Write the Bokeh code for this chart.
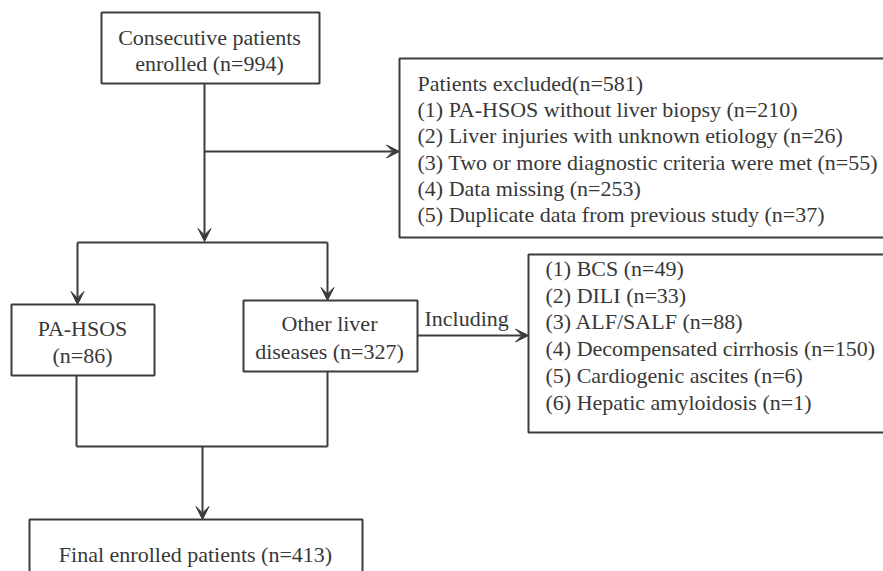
from bokeh.plotting import figure
from bokeh.models import Range1d, Arrow, VeeHead, ColumnDataSource
from bokeh.core.properties import value
from bokeh.embed import file_html
from bokeh.resources import INLINE

# ---- data (flowchart counts) ----
total_n = 994
excluded_n = 581
excluded_reasons = ["PA-HSOS without liver biopsy", "Liver injuries with unknown etiology",
                    "Two or more diagnostic criteria were met", "Data missing",
                    "Duplicate data from previous study"]
excluded_counts = [210, 26, 55, 253, 37]
group_names = ["PA-HSOS", "Other liver diseases"]
group_counts = [86, 327]
other_dx = ["BCS", "DILI", "ALF/SALF", "Decompensated cirrhosis", "Cardiogenic ascites",
            "Hepatic amyloidosis"]
other_counts = [49, 33, 88, 150, 6, 1]
final_n = 413

# ---- layout (page pixel coordinates) ----
FONT = value("Liberation Serif")
FS = "22px"
LC = "#3c3c3c"
TC = "#383838"
LW = 2

p = figure(width=883, height=571, output_backend="svg", toolbar_location=None,
           x_range=Range1d(0, 883), y_range=Range1d(571, 0), min_border=0)
p.axis.visible = False
p.grid.visible = False
p.outline_line_color = None
p.background_fill_color = "white"
p.border_fill_color = "white"

boxes = dict(
    left=[101, 399, 11, 243, 528, 29],
    right=[319, 900, 154, 417, 900, 362],
    top=[12, 58, 304, 300, 254, 519],
    bottom=[83, 237, 375, 371, 432, 600],
)
p.quad(source=ColumnDataSource(boxes), left="left", right="right", top="top", bottom="bottom",
       fill_color="white", line_color=LC, line_width=LW)

# plain connector lines
segs = dict(x0=[77, 76, 327, 76], y0=[242, 375, 371, 446],
            x1=[327, 76, 327, 327], y1=[242, 446, 446, 446])
p.segment(source=ColumnDataSource(segs), x0="x0", y0="y0", x1="x1", y1="y1",
          line_color=LC, line_width=LW)

arrows = [((204, 83), (204, 241)), ((204, 151), (399, 151)),
          ((77, 242), (77, 304)), ((327, 242), (327, 300)),
          ((417, 335), (528, 335)), ((202, 446), (202, 519))]
for (xs, ys), (xe, ye) in arrows:
    p.add_layout(Arrow(end=VeeHead(size=13, fill_color=LC, line_color=LC, line_width=1),
                       x_start=xs, y_start=ys, x_end=xe, y_end=ye,
                       line_color=LC, line_width=LW))

def txt(x, y, s, align="left"):
    p.text(x=[x], y=[y], text=[s], text_font=FONT, text_font_size=FS, text_color=TC,
           text_align=align, text_baseline="middle")

# box 1
txt(209, 37, "Consecutive patients", "center")
txt(209, 63, f"enrolled (n={total_n})", "center")

# excluded box
txt(417, 83, f"Patients excluded(n={excluded_n})")
for i, (r, c) in enumerate(zip(excluded_reasons, excluded_counts)):
    txt(417, 109 + i * 26.3, f"({i + 1}) {r} (n={c})")

# groups
txt(82, 328, group_names[0], "center")
txt(82, 355, f"(n={group_counts[0]})", "center")
txt(329, 323, "Other liver", "center")
txt(329, 351, f"diseases (n={group_counts[1]})", "center")

txt(424, 318, "Including")
for i, (d, c) in enumerate(zip(other_dx, other_counts)):
    txt(545, 268 + i * 26.7, f"({i + 1}) {d} (n={c})")

txt(195, 554, f"Final enrolled patients (n={final_n})", "center")

open("out.html", "w").write(file_html(p, INLINE))
